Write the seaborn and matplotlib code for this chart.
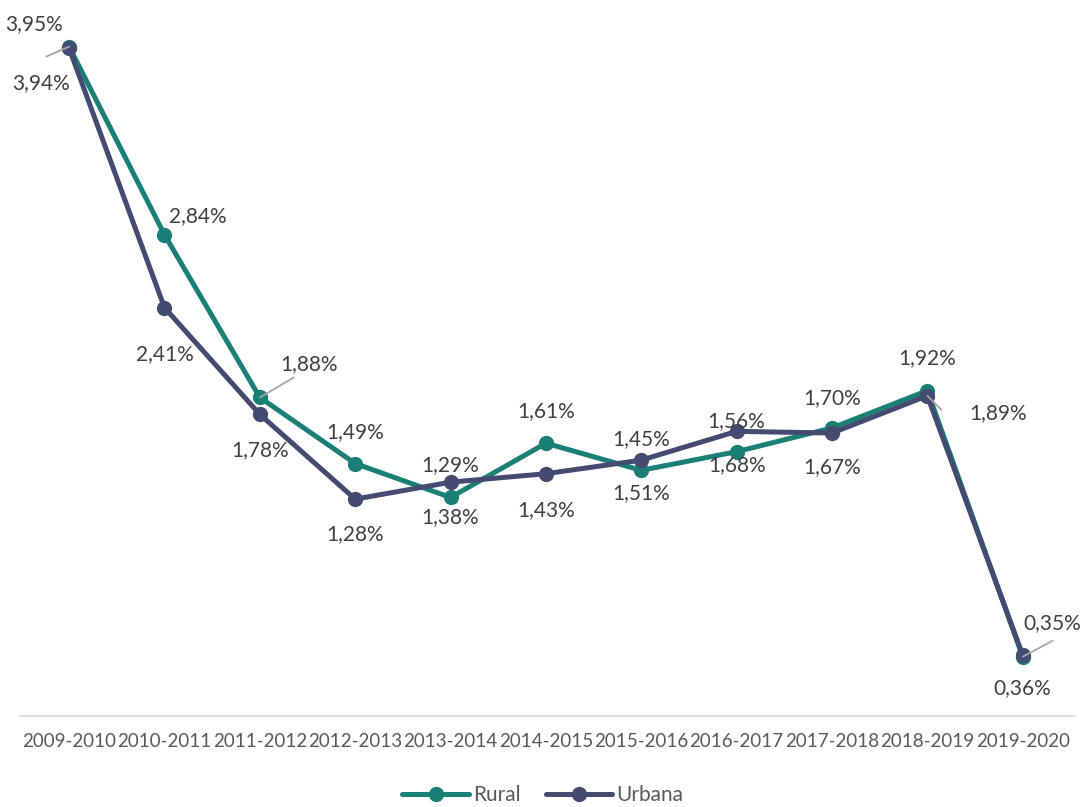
import pandas as pd
import numpy as np
import matplotlib.pyplot as plt
import seaborn as sns
from matplotlib.lines import Line2D

periods = ['2009-2010', '2010-2011', '2011-2012', '2012-2013', '2013-2014', '2014-2015',
           '2015-2016', '2016-2017', '2017-2018', '2018-2019', '2019-2020']
rural = [3.95, 2.84, 1.88, 1.49, 1.29, 1.61, 1.45, 1.56, 1.70, 1.92, 0.35]
urbana = [3.94, 2.41, 1.78, 1.28, 1.38, 1.43, 1.51, 1.68, 1.67, 1.89, 0.36]

# label offsets in pixels (dx, dy), dy positive = up
off_rural = [(-35, 23), (33, 19), (49, 33), (0, 31), (0, 32), (0, 32), (0, 31), (0, 31), (0, 30), (0, 33), (30, 34)]
off_urbana = [(-28, -35), (0, -46), (0, -36), (0, -35), (0, -35), (0, -36), (0, -33), (0, -34), (0, -34), (71, -17), (0, -33)]
leaders = {('Rural', 0): (-23, -10), ('Rural', 2): (34, 20), ('Rural', 10): (30, 16), ('Urbana', 9): (14, -14)}

df = pd.DataFrame({
    'periodo': periods * 2,
    'x': list(range(len(periods))) * 2,
    'valor': rural + urbana,
    'serie': ['Rural'] * len(periods) + ['Urbana'] * len(periods),
})

sns.set_style('white')
plt.rcParams['font.family'] = ['Lato', 'DejaVu Sans']

colors = {'Rural': '#1a7f74', 'Urbana': '#454a70'}
fig = plt.figure(figsize=(10.86, 8.07), dpi=100)
ax = fig.add_axes([0.018, 0.1127, 0.972, 0.882])

sns.lineplot(data=df, x='x', y='valor', hue='serie', palette=colors, marker='o',
             markersize=11, markeredgewidth=0, linewidth=3.6, ax=ax, legend=False)

txt = '#404040'
for name, vals, offs in [('Rural', rural, off_rural), ('Urbana', urbana, off_urbana)]:
    for i, v in enumerate(vals):
        ax.annotate(f'{v:.2f}%'.replace('.', ','), (i, v), xytext=offs[i], textcoords='offset pixels',
                    ha='center', va='center', fontsize=15, color=txt)
        if (name, i) in leaders:
            ax.annotate('', (i, v), xytext=leaders[(name, i)], textcoords='offset pixels',
                        arrowprops=dict(arrowstyle='-', color='#a6a6a6', lw=1.3, shrinkA=0, shrinkB=0))

ax.set_xlim(-0.52, 10.55)
ax.set_ylim(0, 4.2)
ax.set_xticks(range(len(periods)))
ax.set_xticklabels(periods, fontsize=13.5, color='#595959')
ax.tick_params(axis='x', length=0, pad=12)
ax.set_yticks([])
ax.set_xlabel('')
ax.set_ylabel('')
for s in ['top', 'left', 'right']:
    ax.spines[s].set_visible(False)
ax.spines['bottom'].set_color('#d9d9d9')
ax.spines['bottom'].set_linewidth(1.2)

handles = [Line2D([], [], color=colors[k], marker='o', markersize=11, markeredgewidth=0, linewidth=3.6)
           for k in ['Rural', 'Urbana']]
fig.legend(handles, ['Rural', 'Urbana'], loc='center', bbox_to_anchor=(0.5, 0.015), ncol=2, frameon=False,
           fontsize=15, handlelength=3.2, handletextpad=0.2, columnspacing=1.2, labelcolor='#595959')

fig.savefig('out.png', dpi=100)
